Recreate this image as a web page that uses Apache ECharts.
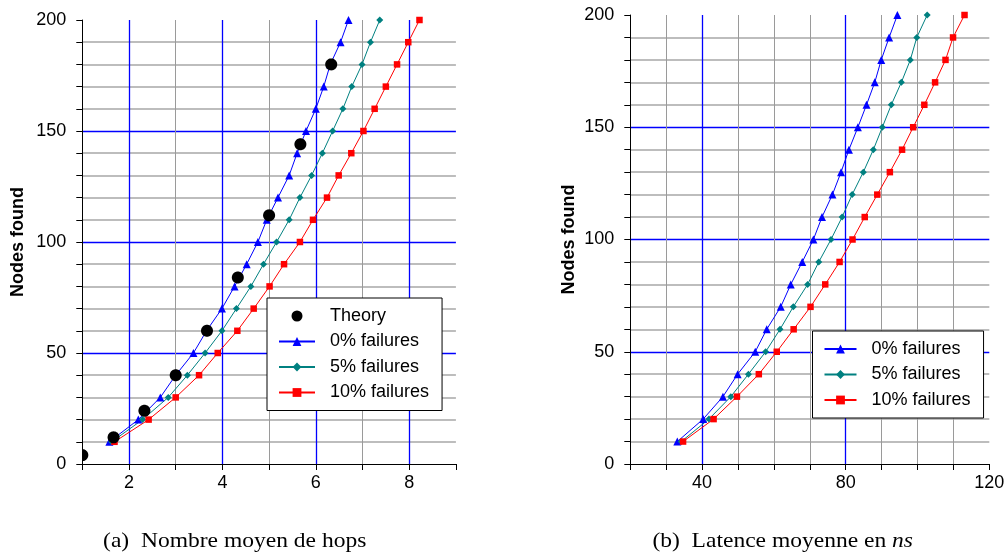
<!DOCTYPE html>
<html><head><meta charset="utf-8">
<script src="https://cdn.jsdelivr.net/npm/echarts/dist/echarts.min.js"></script>
<style>html,body{margin:0;padding:0;background:#fff}#c{width:1008px;height:557px}</style>
</head><body><div id="c"></div>
<script>
// ---- data ----
const nodesFound = [10,20,30,40,50,60,70,80,90,100,110,120,130,140,150,160,170,180,190,200];
const theoryHops = [1.0,1.67,2.33,3.0,3.67,4.33,5.0,5.67,6.33];
const theoryNodes = [4,12,24,40,60,84,112,144,180];
const hops0 = [1.58,2.20,2.67,3.00,3.38,3.66,3.99,4.26,4.52,4.76,4.95,5.19,5.43,5.60,5.79,6.00,6.17,6.31,6.53,6.70];
const hops5 = [1.63,2.29,2.84,3.25,3.63,3.99,4.30,4.61,4.88,5.16,5.43,5.66,5.91,6.14,6.36,6.58,6.77,6.99,7.17,7.37];
const hops10 = [1.69,2.42,3.00,3.50,3.90,4.32,4.67,5.01,5.32,5.66,5.94,6.24,6.49,6.76,7.02,7.26,7.50,7.74,7.98,8.22];
const lat0 = [33.1,40.3,45.8,49.9,54.8,58.0,61.9,64.7,67.9,71.0,73.4,76.3,78.7,80.9,83.4,85.8,88.1,89.9,92.1,94.4];
const lat5 = [34.2,41.9,48.0,52.9,57.7,61.7,65.4,69.4,72.5,75.9,79.0,81.8,84.9,87.7,90.2,92.7,95.5,98.0,99.8,102.7];
const lat10 = [34.7,43.2,49.7,55.8,60.8,65.5,70.2,74.3,78.3,81.9,85.3,88.8,92.3,95.7,98.8,101.9,104.9,107.8,109.9,113.1];
const hopsMajorTicks = [2,4,6,8];
const hopsMinorTicks = [3,5,7];
const latMajorTicks = [40,80];
const latMinorTicks = [30,50,60,70,90,100,110];
const seriesNames = ['Theory','0% failures','5% failures','10% failures'];
const captionA = '(a)\u2002Nombre moyen de hops';
const captionB = '(b)\u2002Latence moyenne en {i|ns}';

// ---- styling ----
const SANS = 'Liberation Sans, Arial, Helvetica, sans-serif';
const SERIF = 'Liberation Serif, Times New Roman, serif';
const BLUE = '#0000ff', TEAL = '#008080', RED = '#ff0000';
const zip = (xs, ys) => xs.map((x, i) => [x, ys[i]]);

function xAxisCfg(gi, min, max, step, labelEvery) {
  return {
    type: 'value', gridIndex: gi, min: min, max: max, interval: step,
    axisLine: {show: true, onZero: false, lineStyle: {color: '#000', width: 1}},
    axisTick: {show: true, length: 6, lineStyle: {color: '#000'}},
    axisLabel: {color: '#000', fontSize: 18, fontFamily: SANS, margin: 10,
      formatter: v => (Math.round(v) % labelEvery === 0 ? String(Math.round(v)) : '')},
    splitLine: {show: false}
  };
}
function yAxisCfg(gi, nameGap) {
  return {
    type: 'value', gridIndex: gi, min: 0, max: 200, interval: 50,
    name: 'Nodes found', nameLocation: 'middle', nameGap: nameGap,
    nameTextStyle: {color: '#000', fontSize: 18, fontWeight: 'bold', fontFamily: SANS},
    axisLine: {show: true, lineStyle: {color: '#000', width: 1}},
    axisTick: {show: true, length: 6, lineStyle: {color: '#000'}},
    minorTick: {show: true, splitNumber: 5, length: 6, lineStyle: {color: '#000'}},
    axisLabel: {color: '#000', fontSize: 18, fontFamily: SANS, margin: 16},
    splitLine: {show: true, showMinLine: false, showMaxLine: false, lineStyle: {color: BLUE, width: 1.3}},
    minorSplitLine: {show: true, lineStyle: {color: '#bdbdbd', width: 2}}
  };
}
function gridLines(gi, minor, major) {
  const data = minor.map(v => ({xAxis: v, lineStyle: {color: '#9a9a9a', width: 1}}))
    .concat(major.map(v => ({xAxis: v, lineStyle: {color: BLUE, width: 1.3}})));
  return {
    type: 'line', xAxisIndex: gi, yAxisIndex: gi, data: [], silent: true, z: 1,
    markLine: {silent: true, z: 1, symbol: 'none', animation: false, label: {show: false},
      emphasis: {disabled: true},
      lineStyle: {type: 'solid'}, data: data}
  };
}
function lineSeries(gi, name, xs, color, symbol, size) {
  return {
    type: 'line', name: name, xAxisIndex: gi, yAxisIndex: gi,
    data: zip(xs, nodesFound), symbol: symbol, symbolSize: size, showSymbol: true,
    lineStyle: {color: color, width: 1}, itemStyle: {color: color}, z: 3
  };
}
function legendCfg(left, top, data, itemWidth) {
  return {
    orient: 'vertical', left: left, top: top, data: data,
    itemWidth: itemWidth, itemHeight: 11, itemGap: 7.5,
    padding: [9, 13, 9, 11], borderColor: '#000', borderWidth: 1, backgroundColor: '#fff',
    textStyle: {color: '#000', fontSize: 18, fontFamily: SANS, padding: [0, 0, 0, 10]},
    selectedMode: false
  };
}
// circle marker clipped to the plotting rectangle (polygon built from the circle outline)
function renderTheory(params, api) {
  const p = api.coord([api.value(0), api.value(1)]);
  const cs = params.coordSys;
  const r = 6, pts = [];
  for (let k = 0; k < 48; k++) {
    const a = (k / 48) * Math.PI * 2;
    const x = Math.min(Math.max(p[0] + r * Math.cos(a), cs.x), cs.x + cs.width);
    const y = Math.min(Math.max(p[1] + r * Math.sin(a), cs.y), cs.y + cs.height);
    pts.push([x, y]);
  }
  return {type: 'polygon', shape: {points: pts}, style: {fill: '#000'}};
}

const chart = echarts.init(document.getElementById('c'), null, {renderer: 'canvas'});
chart.setOption({
  animation: false,
  backgroundColor: '#fff',
  grid: [
    {left: 82.3, top: 20, width: 373.6, height: 444},
    {left: 630.3, top: 15, width: 359, height: 449}
  ],
  xAxis: [xAxisCfg(0, 1, 9, 1, 2), xAxisCfg(1, 20, 120, 10, 40)],
  yAxis: [yAxisCfg(0, 55), yAxisCfg(1, 52)],
  legend: [
    legendCfg(267, 298, [{name: seriesNames[0], icon: 'circle'}, seriesNames[1], seriesNames[2], seriesNames[3]], 36),
    legendCfg(812.5, 331, [seriesNames[1], seriesNames[2], seriesNames[3]], 32)
  ],
  series: [
    gridLines(0, hopsMinorTicks, hopsMajorTicks),
    gridLines(1, latMinorTicks, latMajorTicks),
    {
      type: 'custom', name: seriesNames[0], xAxisIndex: 0, yAxisIndex: 0, clip: true, z: 4,
      data: zip(theoryHops, theoryNodes), encode: {x: 0, y: 1},
      itemStyle: {color: '#000'},
      renderItem: renderTheory
    },
    lineSeries(0, seriesNames[1], hops0, BLUE, 'triangle', 8),
    lineSeries(0, seriesNames[2], hops5, TEAL, 'diamond', 7),
    lineSeries(0, seriesNames[3], hops10, RED, 'rect', 6.5),
    lineSeries(1, seriesNames[1], lat0, BLUE, 'triangle', 8),
    lineSeries(1, seriesNames[2], lat5, TEAL, 'diamond', 7),
    lineSeries(1, seriesNames[3], lat10, RED, 'rect', 6.5)
  ],
  graphic: [
    {type: 'text', x: 234.7, y: 541, scaleX: 1.12, silent: true,
      style: {text: captionA, fontFamily: SERIF, fontSize: 21, fill: '#000', align: 'center', verticalAlign: 'middle'}},
    {type: 'text', x: 782.7, y: 541, scaleX: 1.12, silent: true,
      style: {text: captionB, fontFamily: SERIF, fontSize: 21, fill: '#000', align: 'center', verticalAlign: 'middle',
        rich: {i: {fontFamily: SERIF, fontSize: 21, fontStyle: 'italic', fill: '#000'}}}}
  ]
});
</script>
</body></html>
